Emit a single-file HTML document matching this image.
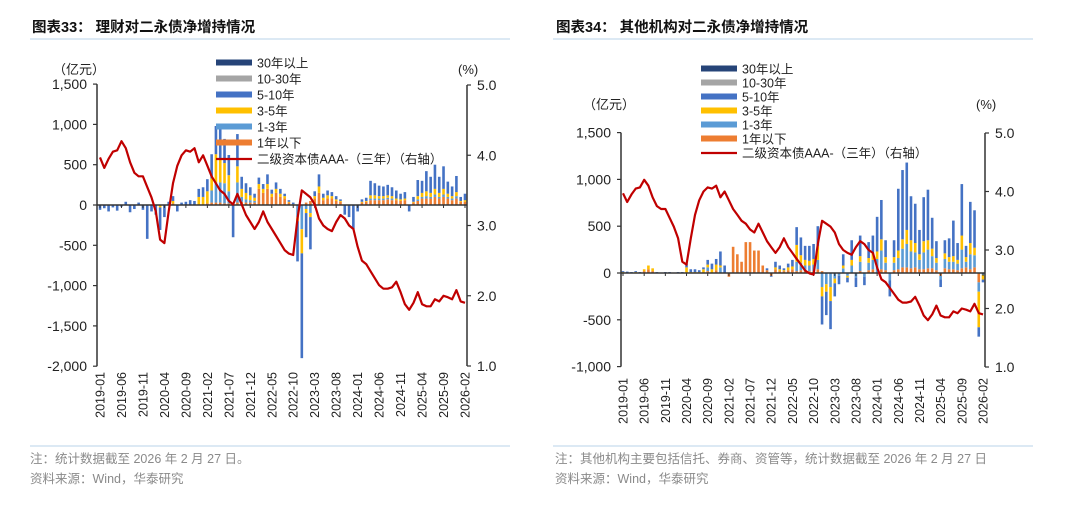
<!DOCTYPE html>
<html><head><meta charset="utf-8"><style>
body{margin:0;background:#fff;width:1080px;height:504px;overflow:hidden;font-family:"Liberation Sans","Noto Sans CJK SC",sans-serif}
svg text{font-family:"Liberation Sans","Noto Sans CJK SC",sans-serif}
</style></head><body>
<svg id="s" width="1080" height="504" xmlns="http://www.w3.org/2000/svg">
<text x="32" y="32" font-size="14.5" font-weight="bold" fill="#111">图表33：  理财对二永债净增持情况</text>
<line x1="30" y1="39" x2="510" y2="39" stroke="#b9d3ea" stroke-width="1"/>
<text x="556" y="32" font-size="14.5" font-weight="bold" fill="#111">图表34：  其他机构对二永债净增持情况</text>
<line x1="553" y1="39" x2="1033" y2="39" stroke="#b9d3ea" stroke-width="1"/>
<line x1="30" y1="446" x2="510" y2="446" stroke="#b9d3ea"/>
<line x1="553" y1="446" x2="1033" y2="446" stroke="#b9d3ea"/>
<text x="30" y="463" font-size="12.5" fill="#8a8a8a">注：统计数据截至 2026 年 2 月 27 日。</text>
<text x="30" y="483" font-size="12.5" fill="#8a8a8a">资料来源：Wind，华泰研究</text>
<text x="555" y="463" font-size="12.5" fill="#8a8a8a">注：其他机构主要包括信托、券商、资管等，统计数据截至 2026 年 2 月 27 日</text>
<text x="555" y="483" font-size="12.5" fill="#8a8a8a">资料来源：Wind，华泰研究</text>
</svg>
<script>
const months=[];for(let y=2019;y<=2026;y++)for(let m=1;m<=12;m++){if(y===2026&&m>2)break;months.push(y+'-'+String(m).padStart(2,'0'));}
const tickMonths=['2019-01','2019-06','2019-11','2020-04','2020-09','2021-02','2021-07','2021-12','2022-05','2022-10','2023-03','2023-08','2024-01','2024-06','2024-11','2025-04','2025-09','2026-02'];
const leftTicks1=[1500,1000,500,0,-500,-1000,-1500,-2000];
const leftTicks2=[1500,1000,500,0,-500,-1000];
const rightTicks=[5,4,3,2,1];
const seriesNames=['30年以上','10-30年','5-10年','3-5年','1-3年','1年以下'];
const yieldAAA=[3.97,3.82,3.95,4.05,4.07,4.2,4.1,3.9,3.75,3.7,3.7,3.55,3.4,3.2,2.8,2.75,3.2,3.6,3.85,4.0,4.07,4.05,4.1,3.9,4.0,3.85,3.7,3.6,3.5,3.45,3.35,3.3,3.45,3.3,3.15,3.05,2.95,3.05,3.2,3.05,2.95,2.85,2.75,2.65,2.6,2.58,3.1,3.5,3.45,3.4,3.3,3.1,3.0,2.95,2.92,3.05,3.15,3.1,3.0,2.95,2.7,2.5,2.45,2.35,2.25,2.15,2.1,2.1,2.12,2.2,2.05,1.88,1.8,1.9,2.05,1.88,1.85,1.85,1.95,1.92,2.0,1.98,1.95,2.08,1.92,1.9];
// chart 33 (wealth management)
const wm_lt1=[0,0,0,0,0,0,0,0,0,0,0,0,0,0,0,0,0,20,0,0,0,0,0,0,0, 20,30,30,30,20,20,0,30,40,30,30,30, 200,150,200,100,150,100,80,30, 0,0,0,30, 50,80,150,60,80,80,50,40,0,0,0,0, 30,40,60,60,60,60,70,60,60,50,60,0,30,50,80,80,80,100,80,100,80,60,80,40,40];
const wm_1to3=[0,0,0,0,0,0,0,0,0,0,0,0,0,0,0,0,0,0,0,0,0,0,0,0,0,0, 150,250,250,250,150,0,250,60,40,30,20, 0,0,0,0,0,0,0,0, 0,-150,-300,-50, -100,0,0,0,0,0,0,0,0,0,0,0, 0,0,20,20,20,20,20,20,0,0,0,0,0,20,20,30,20,30,20,30,20,20,30,0,0];
const wm_3to5=[0,0,0,0,0,0,0,0,0,0,0,0,0,0,-30,0,0,30,0,0,0,0,0, 100,100,150,150,350,300,250,200,0,200,100,80,60,40, 60,50,60,40,50,40,30,10, 10,-50,-300,-50, -50,30,80,30,40,30,20,10,0,0,0,0, 10,10,40,40,30,30,30,30,20,20,20,0,10,40,50,60,50,70,50,70,40,30,50,10,20];
const wm_5to10=[-60,-40,-80,-30,-70,-20,40,-90,-50,30,-60,-420,-80, -120,-280,-150,40,60,-80,30,40,60,50,100,120,150, 300,350,400,300,250,-400,400,150,120,100,50, 80,60,120,50,80,60,30,20,20,-500,-1300,-300, -400,60,150,50,60,50,40,20,-120,-150,-300,-80, 30,40,180,150,130,120,130,110,100,70,80,-80,60,200,150,250,200,300,200,280,150,120,200,50,80];
// chart 34 (other institutions)
const ot_lt1=[0,0,0,0,0,20,40,20,0,0,0,0,0,0,0, 0,0,0,0,0,20,0,30,0,0, -40,280,200,120,330,330,240,240,80, 30,-30,40,20,20,30,40, 20,30,20,20,20,40, 20,0,0,0,0, 0,0,0,0,20,0,30,40,0,40,30,0,30,40,60,60,50,60,40,40,50,50,30,-30,50,40,40,30,50,60,40,60,-100,0];
const ot_1to3=[0,0,0,0,0,0,0,0,0,0,0,0,0,0,0,0,0,0,0,0,40,0,0,60,0,0,0,0,0,0,0,0,0,0,0,0,0,0,0,0,0, 100,80,60,60,70,100, -150,-120,-150,-60,-30, 50,-30,80,-50,100,-40,80,100,150,200,80,-80,80,120,200,250,180,160,100,180,200,130,80,-40,100,80,80,70,200,60,160,130,-100,-20];
const ot_3to5=[10,5,5,10,5,20,40,30,5,0,5,5,0,5,5, 60,10,10,10,40,30,40,60,20,0, 0,0,0,0,0,0,0,0,0, 0,0,20,20,10,30,30, 180,80,60,50,60,150, -100,-80,-150,-50,0, 30,-20,60,0,60,0,50,80,80,120,60,0,60,80,100,150,120,100,60,120,100,80,50,0,60,50,60,40,150,50,120,80,-380,-50];
const ot_5to10=[10,10,5,10,5,0,0,0,5,5,5,5,5,5,5, 40,30,30,20,20,50,60,60,150,80, 0,0,0,0,0,0,0,0,0, 20,-10,60,40,20,40,70, 190,190,150,160,160,210, -300,-250,-300,-140,-90, 120,-50,210,-100,220,-90,170,180,370,420,180,-170,180,660,740,720,470,420,260,470,540,330,180,-80,140,200,380,180,550,120,440,400,-100,-30];

const NS='http://www.w3.org/2000/svg';
const svg=document.getElementById('s');
function mk(tag,attrs,parent){const e=document.createElementNS(NS,tag);for(const k in attrs)e.setAttribute(k,attrs[k]);(parent||svg).appendChild(e);return e;}
const COL={lt1:'#ED7D31',t13:'#5B9BD5',t35:'#FFC000',t510:'#4472C4',t1030:'#A5A5A5',t30:'#264478',line:'#C00000'};

function draw(cfg){
  const g=mk('g',{});
  
  
  const yL=v=>cfg.y0-v*cfg.k;
  const yR=v=>cfg.yBot-(v-1)*(cfg.yBot-cfg.yTop)/4;
  const xI=i=>cfg.x0+i*(cfg.x1-cfg.x0)/(months.length-1);
  const layers=[[cfg.s[0],COL.lt1,'lt1'],[cfg.s[1],COL.t13,'1to3'],[cfg.s[2],COL.t35,'3to5'],[cfg.s[3],COL.t510,'5to10']];
  for(let i=0;i<months.length;i++){
    let pos=0,neg=0;
    for(const [arr,c,nm] of layers){
      const v=arr[i];if(!v)continue;
      let a,b;if(v>0){a=pos;pos+=v;b=pos;}else{a=neg;neg+=v;b=neg;}
      const r=mk('rect',{x:xI(i)-1.3,y:Math.min(yL(a),yL(b)),width:2.6,height:Math.abs(yL(a)-yL(b)),fill:c},g);
      
      
    }
  }
  const ax=mk('line',{x1:cfg.axL,y1:yL(cfg.lt[0]),x2:cfg.axL,y2:yL(cfg.lt[cfg.lt.length-1]),stroke:'#333','stroke-width':1.5},g);
  
  const axr=mk('line',{x1:cfg.axR,y1:yR(5),x2:cfg.axR,y2:yR(1),stroke:'#333','stroke-width':1.5},g);
  
  const zl=mk('line',{x1:cfg.axL,y1:yL(0),x2:cfg.axR,y2:yL(0),stroke:'#333','stroke-width':1.5},g);
  
  for(const v of cfg.lt){
    mk('line',{x1:cfg.axL-4,y1:yL(v),x2:cfg.axL,y2:yL(v),stroke:'#333','stroke-width':1.2},g);
    const t=mk('text',{x:cfg.axL-10,y:yL(v)+5,'text-anchor':'end','font-size':14,fill:'#222'},g);
    t.textContent=v.toLocaleString('en-US');
    
  }
  for(const v of rightTicks){
    mk('line',{x1:cfg.axR,y1:yR(v),x2:cfg.axR+4,y2:yR(v),stroke:'#333','stroke-width':1.2},g);
    const t=mk('text',{x:cfg.axR+10,y:yR(v)+5,'font-size':14,fill:'#222'},g);
    t.textContent=v.toFixed(1);
    
  }
  for(const m of tickMonths){
    const i=months.indexOf(m);const x=xI(i);
    mk('line',{x1:x,y1:yL(0),x2:x,y2:yL(0)+3,stroke:'#333'},g);
    const t=mk('text',{x:0,y:0,'text-anchor':'end','font-size':12.5,fill:'#222',transform:`translate(${x+4.5},${cfg.xl}) rotate(-90)`},g);
    t.textContent=m;
    
  }
  const u1=mk('text',{x:cfg.uL[0],y:cfg.uL[1],'font-size':13,fill:'#222'},g);u1.textContent='（亿元）';
  
  const u2=mk('text',{x:cfg.uR[0],y:cfg.uR[1],'font-size':13,fill:'#222'},g);u2.textContent='(%)';
  
  const d=yieldAAA.map((v,i)=>(i?'L':'M')+xI(i).toFixed(1)+','+yR(v).toFixed(1)).join('');
  const p=mk('path',{d:d,fill:'none',stroke:COL.line,'stroke-width':2.2,'stroke-linejoin':'round'},g);
  
  const lc=[COL.t30,COL.t1030,COL.t510,COL.t35,COL.t13,COL.lt1];
  for(let j=0;j<7;j++){
    const yy=cfg.lg[1]+j*cfg.lg[2];
    const lg=mk('g',{},g);
    
    if(j<6)mk('rect',{x:cfg.lg[0],y:yy-3.5,width:36,height:6,fill:lc[j]},lg);
    else mk('line',{x1:cfg.lg[0],y1:yy,x2:cfg.lg[0]+36,y2:yy,stroke:COL.line,'stroke-width':2.2},lg);
    const t=mk('text',{x:cfg.lg[0]+41,y:yy+4.5,'font-size':12.5,fill:'#222'},lg);
    t.textContent=j<6?seriesNames[j]:'二级资本债AAA-（三年）（右轴）';
  }
}
draw({id:'chart33',s:[wm_lt1,wm_1to3,wm_3to5,wm_5to10],y0:205,k:0.0806,yTop:85,yBot:366,x0:100,x1:465,axL:97,axR:467,lt:leftTicks1,xl:372,uL:[53,74],uR:[458,74],lg:[216,63,16]});
draw({id:'chart34',s:[ot_lt1,ot_1to3,ot_3to5,ot_5to10],y0:273,k:0.0936,yTop:133,yBot:367,x0:623,x1:983,axL:621,axR:985,lt:leftTicks2,xl:378,uL:[583,109],uR:[976,109],lg:[701,69,14]});
</script>
</body></html>
